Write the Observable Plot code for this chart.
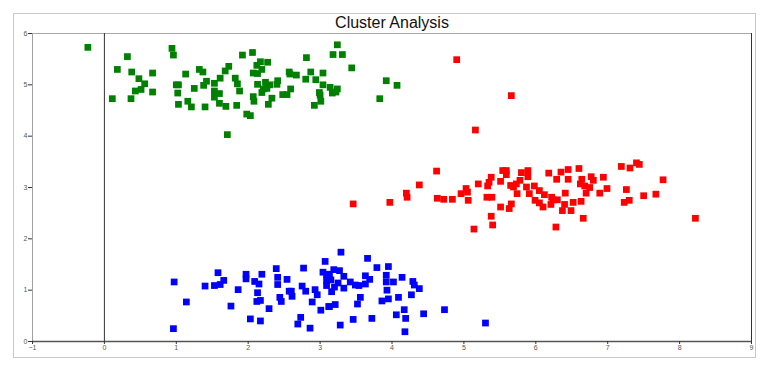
<!DOCTYPE html>
<html>
<head>
<meta charset="utf-8">
<script src="https://cdn.jsdelivr.net/npm/d3@7"></script>
<script src="https://cdn.jsdelivr.net/npm/@observablehq/plot@0.6"></script>
<style>
  html, body { margin: 0; padding: 0; background: #fff; }
  #wrap { position: relative; width: 767px; height: 373px; }
  #box { position: absolute; left: 13px; top: 13px; width: 741px; height: 343px; border: 1px solid #c8c8c8; }
  #chart { position: absolute; left: 0; top: 0; }
</style>
</head>
<body>
<div id="wrap"><div id="box"></div><div id="chart"></div></div>
<script>
const title = "Cluster Analysis";
const xTicks = [-1, 0, 1, 2, 3, 4, 5, 6, 7, 8, 9];
const yTicks = [0, 1, 2, 3, 4, 5, 6];

const greenX = [-0.23,0.32,0.18,0.38,0.67,0.48,0.56,0.51,0.43,0.67,0.11,0.37,0.94,0.96,1.13,1.00,1.03,1.02,1.03,1.16,1.21,1.25,1.32,1.37,1.42,1.38,1.40,1.53,1.53,1.60,1.53,1.60,1.69,1.61,1.68,1.73,1.82,1.85,1.88,1.84,1.92,1.71,
  2.06,2.17,2.27,2.12,2.19,2.07,2.13,2.13,2.24,2.30,2.21,2.19,2.26,2.41,2.40,2.07,2.08,2.33,2.28,1.98,2.03,2.57,2.58,2.67,2.59,2.48,2.54,2.81,2.87,2.80,2.94,3.04,3.04,2.99,3.00,3.01,2.92,3.14,3.24,3.17,3.22,3.24,3.18,3.31,3.44,3.92,4.07,3.83];
const greenY = [5.73,5.55,5.30,5.25,5.23,5.12,5.02,4.91,4.88,4.86,4.73,4.73,5.71,5.58,5.21,5.00,5.00,4.84,4.62,4.68,4.57,4.93,5.30,5.25,5.07,4.99,4.57,5.03,4.88,4.83,4.76,4.64,4.58,5.13,5.27,5.36,5.13,5.02,4.88,4.60,5.58,4.03,
  5.63,5.45,5.44,5.38,5.30,5.23,5.22,5.01,5.05,5.00,4.92,4.85,4.93,5.08,5.01,4.77,4.68,4.74,4.62,4.43,4.40,5.25,5.21,5.19,4.92,4.81,4.81,5.53,5.25,5.11,5.10,5.23,5.00,4.85,4.80,4.68,4.60,4.95,4.92,4.84,4.86,5.78,5.59,5.59,5.33,5.08,4.99,4.73];

const redX = [4.90,5.66,5.16,
  3.46,3.97,4.20,4.21,4.38,4.62,4.63,4.72,4.84,4.96,5.03,5.05,5.06,5.20,5.33,5.35,5.38,5.32,5.39,5.38,5.40,5.14,5.51,5.54,5.59,5.59,5.51,5.63,5.66,5.65,5.69,5.73,5.74,5.78,5.80,
  5.89,5.89,5.87,5.91,5.98,6.05,6.12,5.99,6.05,6.10,6.18,6.29,6.35,6.45,6.45,6.22,6.24,6.30,6.21,6.41,6.40,6.37,6.49,6.52,6.63,6.60,6.64,6.62,6.68,6.70,6.77,6.80,6.75,6.94,6.99,6.89,6.28,6.66,7.19,7.31,7.40,7.44,7.26,7.23,7.30,7.50,7.67,7.77,8.22];
const redY = [5.49,4.79,4.12,
  2.68,2.71,2.89,2.81,3.05,3.32,2.79,2.77,2.77,2.88,2.98,2.91,2.75,3.07,3.03,3.10,3.20,2.81,2.81,2.44,2.27,2.19,3.12,3.33,3.25,3.33,2.62,2.59,2.68,3.04,3.01,3.07,2.88,3.14,3.29,
  3.33,3.21,3.01,2.88,3.03,2.94,2.86,2.75,2.70,2.62,3.28,3.16,3.30,3.35,3.16,2.81,2.76,2.76,2.67,2.89,2.67,2.55,2.55,2.71,2.73,3.37,3.16,3.07,3.03,2.89,3.21,3.14,3.00,3.20,2.98,2.89,2.23,2.40,3.41,3.38,3.48,3.45,2.96,2.71,2.75,2.84,2.87,3.15,2.40];

const blueX = [0.97,0.96,1.14,1.40,1.53,1.58,1.61,1.66,1.76,1.86,1.97,1.97,2.03,2.09,2.15,2.19,2.13,2.12,2.17,2.17,2.29,2.39,2.41,2.41,2.54,2.44,2.46,2.57,2.61,2.60,2.77,2.75,2.80,2.73,2.69,2.86,2.89,2.93,2.96,3.01,3.07,3.04,3.09,3.09,3.09,3.12,
  3.29,3.66,3.79,3.95,3.19,3.27,3.13,3.33,3.15,3.25,3.20,3.33,3.16,3.42,3.49,3.54,3.63,3.69,3.63,3.92,3.92,4.02,4.14,4.29,4.31,4.38,3.93,3.56,3.52,3.95,3.86,4.09,4.27,3.13,3.21,3.46,3.72,3.28,4.17,4.06,4.19,4.18,4.44,4.73,5.30];
const blueY = [1.16,0.25,0.77,1.08,1.09,1.34,1.11,1.19,0.69,1.01,1.31,1.22,0.44,1.17,1.12,1.31,0.95,0.78,0.80,0.40,0.64,1.42,1.25,1.11,1.21,0.86,0.78,0.98,0.88,0.98,1.43,1.08,0.98,0.47,0.34,0.26,0.77,1.01,0.91,0.61,1.56,1.35,1.30,1.19,1.09,0.68,
  1.74,1.62,1.44,1.46,1.40,1.38,1.31,1.27,1.20,1.14,1.06,1.04,0.97,1.16,1.10,1.09,1.28,1.21,1.12,1.29,1.16,1.16,1.25,1.17,1.10,1.03,1.00,0.86,0.73,0.83,0.79,0.86,0.91,0.68,0.72,0.43,0.45,0.32,0.62,0.52,0.45,0.19,0.54,0.62,0.36];

const clusters = [
  {name: "Cluster 1", xs: greenX, ys: greenY, color: "#008000"},
  {name: "Cluster 2", xs: redX, ys: redY, color: "#ff0000"},
  {name: "Cluster 3", xs: blueX, ys: blueY, color: "#0000ff"}
];
const points = clusters.flatMap(c => c.xs.map((x, i) => ({x, y: c.ys[i], cluster: c.name})));

const chart = Plot.plot({
  width: 767,
  height: 373,
  marginLeft: 32,
  marginRight: 16,
  marginTop: 33,
  marginBottom: 32,
  style: {fontFamily: "'Liberation Sans', Arial, sans-serif", background: "transparent"},
  x: {domain: [-1, 9]},
  y: {domain: [0, 6]},
  color: {domain: clusters.map(c => c.name), range: clusters.map(c => c.color)},
  marks: [
    Plot.ruleY([6], {stroke: "#a8a8a8", strokeWidth: 1}),
    Plot.ruleX([-1], {stroke: "#a0a0a0", strokeWidth: 1}),
    Plot.ruleX([9], {stroke: "#333", strokeWidth: 1}),
    Plot.ruleX([0], {stroke: "#333", strokeWidth: 1}),
    Plot.ruleY([0], {stroke: "#555", strokeWidth: 1.5}),
    Plot.axisX({ticks: xTicks, tickFormat: d3.format("d"), tickSize: 3, tickPadding: 1, fontSize: 7, stroke: "#333", fill: "#555", label: null}),
    Plot.axisY({ticks: yTicks, tickFormat: d3.format("d"), tickSize: 4, tickPadding: 1, fontSize: 7, stroke: "#333", fill: "#555", label: null}),
    Plot.dot(points, {x: "x", y: "y", fill: "cluster", symbol: "square", r: 3.8}),
    Plot.text([title], {frameAnchor: "top", lineAnchor: "bottom", dy: -6, fontSize: 16, fill: "#111"})
  ]
});
document.getElementById("chart").appendChild(chart);
</script>
</body>
</html>
